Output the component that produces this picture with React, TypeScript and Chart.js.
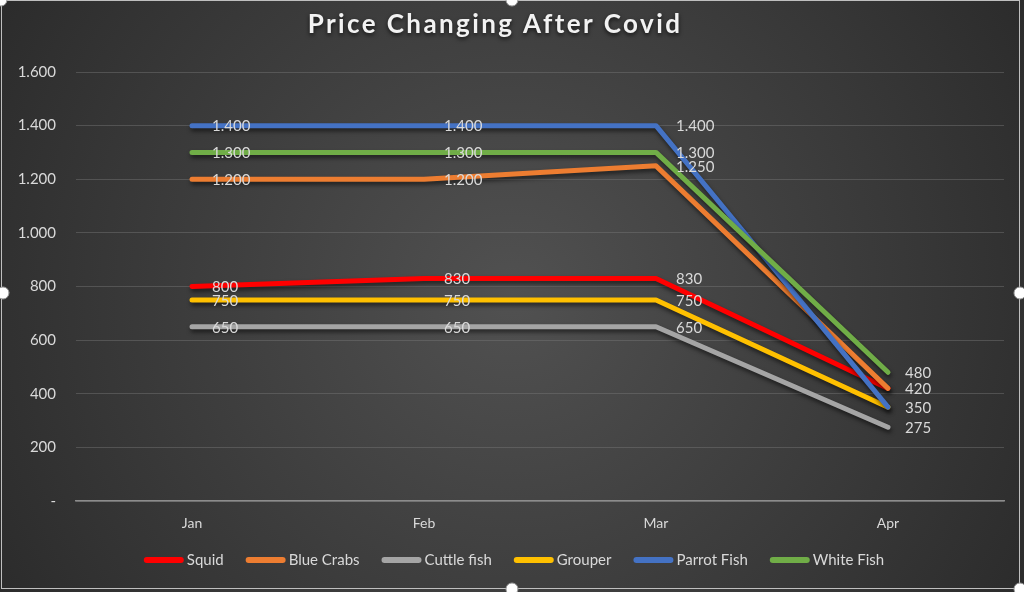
import React, { useEffect, useRef } from "react";
import { Chart, registerables } from "chart.js";

Chart.register(...registerables);

const categories = ["Jan", "Feb", "Mar", "Apr"];
const seriesNames = ["Squid", "Blue Crabs", "Cuttle fish", "Grouper", "Parrot Fish", "White Fish"];
const squid = [800, 830, 830, 420];
const blueCrabs = [1200, 1200, 1250, 420];
const cuttleFish = [650, 650, 650, 275];
const grouper = [750, 750, 750, 350];
const parrotFish = [1400, 1400, 1400, 350];
const whiteFish = [1300, 1300, 1300, 480];
const seriesColors = ["#ff0000", "#ed7d31", "#a5a5a5", "#ffc000", "#4472c4", "#70ad47"];
const yTicks = [0, 200, 400, 600, 800, 1000, 1200, 1400, 1600];
const titleText = "Price Changing After Covid";

const FONT = "Lato, 'Open Sans', sans-serif";

function fmt(v: number): string {
  if (v === 0) return "-";
  return String(v).replace(/\B(?=(\d{3})+(?!\d))/g, ".");
}

const bgPlugin = {
  id: "bg",
  beforeDraw(chart: any) {
    const { ctx, width, height } = chart;
    ctx.save();
    const g = ctx.createRadialGradient(width / 2, height / 2, 0, width / 2, height / 2, width * 0.6);
    g.addColorStop(0, "#515151");
    g.addColorStop(1, "#2a2a2a");
    ctx.fillStyle = g;
    ctx.fillRect(0, 0, width, height);
    ctx.restore();
  },
  afterDraw(chart: any) {
    const { ctx } = chart;
    ctx.save();
    // title
    ctx.font = `bold 26px ${FONT}`;
    (ctx as any).letterSpacing = "2.4px";
    ctx.textAlign = "center";
    ctx.textBaseline = "middle";
    ctx.shadowColor = "rgba(0,0,0,0.7)";
    ctx.shadowBlur = 4;
    ctx.shadowOffsetY = 2;
    ctx.fillStyle = "#f2f2f2";
    ctx.fillText(titleText, 495, 25);
    ctx.shadowColor = "transparent";
    (ctx as any).letterSpacing = "0px";

    // legend
    ctx.font = `15px ${FONT}`;
    ctx.textAlign = "left";
    const sample = 40;
    const gap = 3;
    const spacing = 22;
    const widths = seriesNames.map((n) => sample + gap + ctx.measureText(n).width);
    const total = widths.reduce((a, b) => a + b, 0) + spacing * (widths.length - 1);
    let x = 514 - total / 2;
    const y = 560;
    chart.data.datasets.forEach((ds: any, i: number) => {
      ctx.strokeStyle = ds.borderColor;
      ctx.lineWidth = 6;
      ctx.lineCap = "round";
      ctx.beginPath();
      ctx.moveTo(x + 3, y);
      ctx.lineTo(x + sample - 3, y);
      ctx.stroke();
      ctx.fillStyle = "#d9d9d9";
      ctx.fillText(seriesNames[i], x + sample + gap, y);
      x += widths[i] + spacing;
    });

    // frame & handles
    ctx.strokeStyle = "#bfbfbf";
    ctx.lineWidth = 1;
    ctx.strokeRect(1.5, 0.5, 1018, 588);
    const handles = [
      [512, 0], [3, 293], [1020, 293], [512, 589], [1, 0], [1020, 589],
    ];
    handles.forEach(([hx, hy]) => {
      ctx.beginPath();
      ctx.arc(hx, hy, 6, 0, Math.PI * 2);
      ctx.fillStyle = "#ffffff";
      ctx.fill();
      ctx.strokeStyle = "#9a9a9a";
      ctx.stroke();
    });
    ctx.restore();
  },
};

const shadowPlugin = {
  id: "lineShadow",
  beforeDatasetDraw(chart: any) {
    const ctx = chart.ctx;
    ctx.save();
    ctx.shadowColor = "rgba(0,0,0,0.55)";
    ctx.shadowBlur = 4;
    ctx.shadowOffsetX = 1;
    ctx.shadowOffsetY = 3;
  },
  afterDatasetDraw(chart: any) {
    chart.ctx.restore();
  },
};

const labelPlugin = {
  id: "valueLabels",
  afterDatasetsDraw(chart: any) {
    const ctx = chart.ctx;
    ctx.save();
    ctx.font = `15px ${FONT}`;
    ctx.fillStyle = "#d9d9d9";
    ctx.textAlign = "left";
    ctx.textBaseline = "middle";
    const drawn = new Set<string>();
    chart.data.datasets.forEach((ds: any, i: number) => {
      const meta = chart.getDatasetMeta(i);
      meta.data.forEach((pt: any, j: number) => {
        const off = j === 3 ? 17 : 20;
        const key = `${j}:${ds.data[j]}`;
        if (drawn.has(key)) return;
        drawn.add(key);
        ctx.fillText(fmt(ds.data[j]), pt.x + off, pt.y + 1);
      });
    });
    ctx.restore();
  },
};

export default function App() {
  const ref = useRef<HTMLCanvasElement>(null);
  useEffect(() => {
    document.body.style.margin = "0";
    const all = [squid, blueCrabs, cuttleFish, grouper, parrotFish, whiteFish];
    const chart = new Chart(ref.current as HTMLCanvasElement, {
      type: "line",
      data: {
        labels: categories,
        datasets: all.map((d, i) => ({
          label: seriesNames[i],
          data: d,
          borderColor: seriesColors[i],
          backgroundColor: seriesColors[i],
          borderWidth: 5,
          borderCapStyle: "round",
          borderJoinStyle: "round",
          pointRadius: 0,
          tension: 0,
          order: all.length - i,
        })),
      },
      options: {
        animation: false,
        responsive: false,
        layout: { padding: { top: 72, right: 20, bottom: 51, left: 0 } },
        plugins: {
          legend: { display: false },
          title: { display: false },
          tooltip: { enabled: false },
        },
        scales: {
          x: {
            offset: true,
            grid: { display: false, drawTicks: false },
            border: { display: true, color: "#8c8c8c", width: 1.5 },
            ticks: { color: "#d9d9d9", font: { family: FONT, size: 14 }, padding: 14 },
            afterFit: (s: any) => { s.height = 40; },
          },
          y: {
            min: 0,
            max: 1600,
            afterBuildTicks: (s: any) => { s.ticks = yTicks.map((v) => ({ value: v })); },
            grid: { color: "rgba(120,120,120,0.45)", lineWidth: 1, drawTicks: false },
            border: { display: false },
            ticks: {
              color: "#d9d9d9",
              font: { family: FONT, size: 15 },
              padding: 20,
              callback: (v: any) => fmt(Number(v)),
            },
            afterFit: (s: any) => { s.width = 76; },
          },
        },
      },
      plugins: [bgPlugin, shadowPlugin, labelPlugin],
    } as any);
    return () => chart.destroy();
  }, []);
  return <canvas ref={ref} width={1024} height={592} style={{ display: "block" }} />;
}
